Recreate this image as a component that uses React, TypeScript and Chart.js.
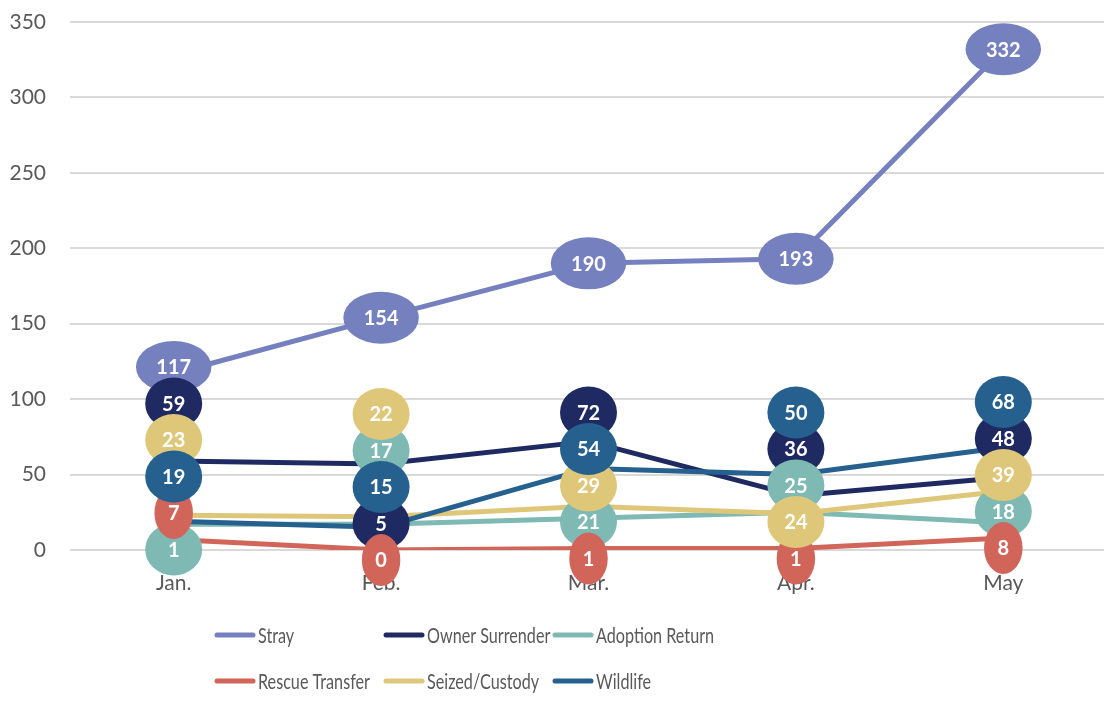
import React, { useEffect, useRef } from "react";
import { Chart, registerables } from "chart.js";

Chart.register(...registerables);

const categories = ["Jan.", "Feb.", "Mar.", "Apr.", "May"];
const yTicks = [0, 50, 100, 150, 200, 250, 300, 350];

const stray = [117, 154, 190, 193, 332];
const ownerSurrender = [59, 57, 72, 36, 48];
const ownerSurrenderLabels = ["59", "5", "72", "36", "48"];
const adoptionReturn = [17, 17, 21, 25, 18];
const adoptionReturnLabels = ["1", "17", "21", "25", "18"];
const rescueTransfer = [7, 0, 1, 1, 8];
const seizedCustody = [23, 22, 29, 24, 39];
const wildlife = [19, 15, 54, 50, 68];

const seriesNames = ["Stray", "Owner Surrender", "Adoption Return", "Rescue Transfer", "Seized/Custody", "Wildlife"];
const seriesColors = ["#7580BF", "#1F2A62", "#7EB9B3", "#D1655A", "#DFC779", "#25608F"];

const TEXT_FONT = "Lato, 'Open Sans', sans-serif";
const GRAY = "#595959";

const stackLabels = {
  id: "stackLabels",
  afterDatasetsDraw(chart: any) {
    const ctx = chart.ctx;
    const ys = chart.scales.y;
    const xs = chart.scales.x;
    const SP = 36.5;
    const GAP = 45;
    const n = chart.data.labels.length;
    for (let i = 0; i < n; i++) {
      const items = chart.data.datasets.map((ds: any, d: number) => {
        const text = ds.labelTexts ? ds.labelTexts[i] : String(ds.data[i]);
        return { d, text, num: parseFloat(text), value: ds.data[i], color: ds.borderColor, py: 0 };
      });
      const sorted = [...items].sort((a, b) => a.num - b.num);
      const minVal = Math.min(...items.map((it: any) => it.value));
      const base = ys.getPixelForValue(minVal) + 10;
      let prev: number | null = null;
      let prevNum = 0;
      sorted.forEach((it: any) => {
        const own = ys.getPixelForValue(it.value);
        let py: number;
        if (prev === null) py = base;
        else py = it.num - prevNum > GAP ? Math.min(own, prev - SP) : prev - SP;
        it.py = py;
        prev = py;
        prevNum = it.num;
      });
      const px = xs.getPixelForValue(i);
      items.forEach((it: any) => {
        const digits = String(Math.round(it.value)).length;
        const rx = (20 + 18.5 * digits) / 2;
        const ry = 26;
        ctx.save();
        ctx.beginPath();
        ctx.ellipse(px, it.py, rx, ry, 0, 0, Math.PI * 2);
        ctx.fillStyle = it.color;
        ctx.fill();
        ctx.fillStyle = "#ffffff";
        ctx.font = "bold 20px " + TEXT_FONT;
        ctx.textAlign = "center";
        ctx.textBaseline = "middle";
        ctx.fillText(it.text, px, it.py + 1);
        ctx.restore();
      });
    }
  },
};

const gridLegend = {
  id: "gridLegend",
  afterDraw(chart: any) {
    const ctx = chart.ctx;
    const colX = [215, 384, 553];
    const rowY = [chart.chartArea.bottom + 85, chart.chartArea.bottom + 131];
    chart.data.datasets.forEach((ds: any, idx: number) => {
      const x = colX[idx % 3];
      const y = rowY[Math.floor(idx / 3)];
      ctx.save();
      ctx.beginPath();
      ctx.lineCap = "round";
      ctx.lineWidth = 5;
      ctx.strokeStyle = ds.borderColor;
      ctx.moveTo(x + 2, y);
      ctx.lineTo(x + 38, y);
      ctx.stroke();
      ctx.translate(x + 43, y + 1);
      ctx.scale(0.77, 1);
      ctx.fillStyle = GRAY;
      ctx.font = "21px " + TEXT_FONT;
      ctx.textAlign = "left";
      ctx.textBaseline = "middle";
      ctx.fillText(ds.label, 0, 0);
      ctx.restore();
    });
  },
};

export default function App() {
  const ref = useRef<HTMLCanvasElement | null>(null);
  useEffect(() => {
    if (!ref.current) return;
    const seriesData = [stray, ownerSurrender, adoptionReturn, rescueTransfer, seizedCustody, wildlife];
    const labelTexts: (string[] | undefined)[] = [undefined, ownerSurrenderLabels, adoptionReturnLabels, undefined, undefined, undefined];
    const chart = new Chart(ref.current, {
      type: "line",
      data: {
        labels: categories,
        datasets: seriesData.map((d, i) => ({
          label: seriesNames[i],
          data: d,
          borderColor: seriesColors[i],
          backgroundColor: seriesColors[i],
          borderWidth: 5,
          pointRadius: 0,
          tension: 0,
          borderJoinStyle: "round",
          borderCapStyle: "round",
          fill: false,
          order: seriesData.length - i,
          labelTexts: labelTexts[i],
        })) as any,
      },
      options: {
        responsive: false,
        animation: false,
        devicePixelRatio: 1,
        layout: { padding: { top: 22, right: 5, bottom: 116, left: 0 } },
        plugins: { legend: { display: false }, tooltip: { enabled: false } },
        scales: {
          x: {
            offset: true,
            grid: { display: false, drawTicks: false },
            border: { display: false },
            ticks: { color: GRAY, font: { size: 21, family: TEXT_FONT }, padding: 21 },
            afterFit: (s: any) => { s.height = 44; },
          },
          y: {
            min: 0,
            max: 350,
            afterBuildTicks: (s: any) => { s.ticks = yTicks.map((v) => ({ value: v })); },
            grid: { color: "#D9D9D9", lineWidth: 2, drawTicks: false },
            border: { display: false },
            ticks: { color: GRAY, font: { size: 21, family: TEXT_FONT }, padding: 24 },
            afterFit: (s: any) => { s.width = 70; s.paddingTop = 0; s.paddingBottom = 0; },
          },
        },
      },
      plugins: [stackLabels, gridLegend],
    });
    return () => chart.destroy();
  }, []);
  return (
    <div style={{ position: "absolute", left: 0, top: 0, width: 1104, height: 710, overflow: "hidden", background: "#fff" }}>
      <canvas ref={ref} width={1112} height={710} style={{ width: 1112, height: 710, display: "block" }} />
    </div>
  );
}
